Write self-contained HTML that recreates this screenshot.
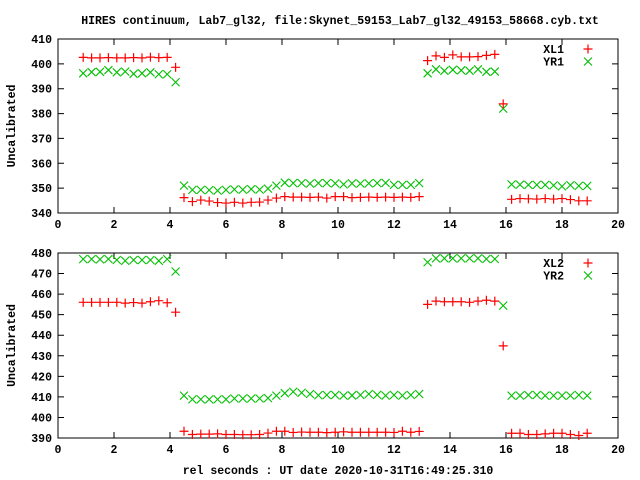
<!DOCTYPE html>
<html><head><meta charset="utf-8">
<style>
html,body{margin:0;padding:0;background:#fff;}
svg{display:block;}
text{font-family:"Liberation Mono",monospace;font-weight:bold;font-size:11.5px;fill:#000;}
</style></head>
<body>
<svg id="chart" width="640" height="480" viewBox="0 0 640 480" xmlns="http://www.w3.org/2000/svg">
<rect x="0" y="0" width="640" height="480" fill="#fff"/>
<text x="340" y="24" text-anchor="middle">HIRES continuum, Lab7_gl32, file:Skynet_59153_Lab7_gl32_49153_58668.cyb.txt</text>
<text x="338" y="474" text-anchor="middle">rel seconds : UT date 2020-10-31T16:49:25.310</text>
<g id="plots"></g>
</svg>
<script>
const times = [0.9,1.2,1.5,1.8,2.1,2.4,2.7,3.0,3.3,3.6,3.9,4.2,
4.5,4.8,5.1,5.4,5.7,6.0,6.3,6.6,6.9,7.2,7.5,7.8,8.1,8.4,8.7,9.0,9.3,9.6,9.9,10.2,10.5,10.8,11.1,11.4,11.7,12.0,12.3,12.6,12.9,
13.2,13.5,13.8,14.1,14.4,14.7,15.0,15.3,15.6,
15.9,
16.2,16.5,16.8,17.1,17.4,17.7,18.0,18.3,18.6,18.9];
const xl1 = [402.6,402.4,402.4,402.5,402.4,402.4,402.5,402.4,402.7,402.5,402.6,398.6,
346.2,344.6,345.2,344.8,344.2,344.0,344.3,344.0,344.3,344.4,345.2,346.0,346.6,346.4,346.4,346.3,346.4,346.0,346.6,346.6,346.2,346.3,346.4,346.3,346.4,346.3,346.4,346.3,346.6,
401.3,403.2,402.6,403.6,402.8,402.8,402.9,403.4,403.8,
383.9,
345.5,345.8,345.7,345.6,345.8,345.6,345.8,345.4,344.9,344.9];
const yr1 = [396.2,396.7,396.8,397.5,396.6,396.9,396.0,396.2,396.6,395.8,395.8,392.6,
351.0,349.3,349.3,349.2,349.0,349.3,349.5,349.4,349.6,349.4,349.8,351.0,352.2,352.0,352.0,351.8,352.0,352.0,351.9,351.5,351.9,351.8,351.9,352.0,352.1,351.3,351.3,351.3,352.0,
396.2,397.8,397.2,397.6,397.4,397.2,397.8,396.8,396.9,
382.0,
351.5,351.4,351.3,351.3,351.3,351.1,350.7,351.2,350.9,350.9];
const xl2 = [456.0,456.0,456.0,456.0,456.0,455.6,455.9,455.6,456.3,456.8,455.8,451.2,
393.3,391.7,391.9,391.9,392.0,391.7,391.7,391.6,391.6,391.7,392.4,393.3,393.3,392.7,392.9,392.8,392.8,392.6,392.8,393.0,392.8,392.8,392.8,392.8,392.8,392.7,393.3,392.8,393.2,
455.0,456.6,456.3,456.3,456.3,456.0,456.6,457.0,456.6,
434.8,
392.3,392.3,391.7,391.7,392.0,392.3,392.3,391.7,391.2,392.3];
const yr2 = [477.0,477.0,476.9,477.1,476.6,476.2,476.6,476.6,476.6,476.2,477.0,471.0,
410.6,408.8,408.8,408.8,408.8,408.8,409.2,409.2,409.2,409.2,409.4,410.6,411.8,412.5,412.0,411.4,410.8,410.9,410.9,410.6,410.7,410.9,411.4,411.0,410.6,410.9,410.6,410.9,411.4,
475.5,477.4,477.4,477.4,477.4,477.4,477.4,477.1,477.1,
454.4,
410.6,410.6,410.9,410.9,410.6,410.6,410.6,410.6,410.9,410.6];
const xTicks = [0,2,4,6,8,10,12,14,16,18,20];
const yTicksTop = [340,350,360,370,380,390,400,410];
const yTicksBot = [390,400,410,420,430,440,450,460,470,480];
const legendTop = ["XL1","YR1"];
const legendBot = ["XL2","YR2"];

const NS = "http://www.w3.org/2000/svg";
const root = document.getElementById("plots");
const L = 58, R = 618;
function xs(t){ return L + (t - 0) / 20 * (R - L); }
function mk(tag, attrs, parent){
  const e = document.createElementNS(NS, tag);
  for (const k in attrs) e.setAttribute(k, attrs[k]);
  (parent || root).appendChild(e);
  return e;
}
function plus(g, x, y){
  const p = mk("path", {d:`M${x-4.5},${y}H${x+4.5}M${x},${y-4.5}V${y+4.5}`, stroke:"#ff0000", "stroke-width":"1.2", fill:"none"}, g);
  
  
}
function cross(g, x, y){
  const p = mk("path", {d:`M${x-4},${y-4}L${x+4},${y+4}M${x-4},${y+4}L${x+4},${y-4}`, stroke:"#00c000", "stroke-width":"1.1", fill:"none"}, g);
  
  
}
function panel(name, top, bottom, ymin, ymax, yt, s1, s2, leg){
  const g = mk("g", {});
  
  
  const ys = v => bottom - (v - ymin) / (ymax - ymin) * (bottom - top);
  const frame = mk("rect", {x:L, y:top, width:R-L, height:bottom-top, fill:"none", stroke:"#000", "stroke-width":"1"}, g);
  
  
  yt.forEach(v => {
    const y = ys(v);
    const tk = mk("path", {d:`M${L},${y}h6M${R},${y}h-6`, stroke:"#000", "stroke-width":"1"}, g);
    
    
    const tx = mk("text", {x:L-6, y:y+4, "text-anchor":"end"}, g);
    
    
    tx.textContent = v;
  });
  xTicks.forEach(v => {
    const x = xs(v);
    const tk = mk("path", {d:`M${x},${bottom}v-6M${x},${top}v6`, stroke:"#000", "stroke-width":"1"}, g);
    
    
    const tx = mk("text", {x:x, y:bottom+15, "text-anchor":"middle"}, g);
    
    
    tx.textContent = v;
  });
  const yl = mk("text", {x:0, y:0, "text-anchor":"middle", transform:`translate(15,${(top+bottom)/2}) rotate(-90)`}, g);
  
  
  yl.textContent = "Uncalibrated";
  times.forEach((t,i) => cross(g, xs(t), ys(s2[i])));
  times.forEach((t,i) => plus(g, xs(t), ys(s1[i])));
  leg.forEach((lab, i) => {
    const y = top + 10 + i * 12.5;
    const tx = mk("text", {x:564, y:y+4, "text-anchor":"end"}, g);
    
    
    tx.textContent = lab;
    if (i === 0) plus(g, 588, y); else cross(g, 588, y);
  });
}
panel("top-panel", 39, 213, 340, 410, yTicksTop, xl1, yr1, legendTop);
panel("bottom-panel", 253, 438, 390, 480, yTicksBot, xl2, yr2, legendBot);
</script>
</body></html>
